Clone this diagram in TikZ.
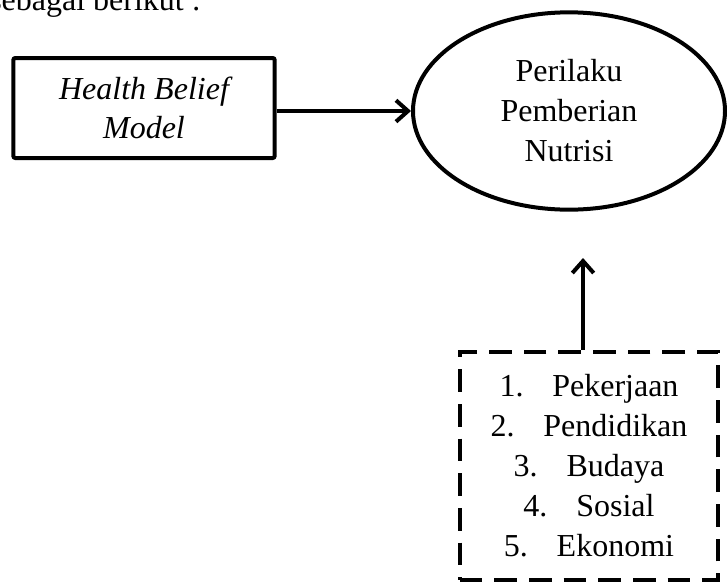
\documentclass[tikz,border=0pt]{standalone}
\usepackage{fontspec}
\setmainfont{Liberation Serif}
\usetikzlibrary{arrows.meta,positioning,shapes.geometric}

\begin{document}
\begin{tikzpicture}[
  x=0.75pt,y=-0.75pt,
  every node/.style={font=\fontsize{24}{30}\selectfont},
  hbm/.style={draw,line width=3pt,rounded corners=1.5pt,minimum width=196pt,minimum height=75pt,align=center,font=\fontsize{24}{29}\selectfont\itshape},
  outcome/.style={ellipse,draw,line width=3pt,minimum width=234pt,minimum height=148pt,align=center},
  factors/.style={draw,dash pattern=on 17pt off 9pt,line width=3pt,minimum width=194pt,minimum height=171pt,align=center},
  arrow/.style={-{Straight Barb[length=9pt,width=16pt,line width=3pt]},line width=3pt}
]
  \useasboundingbox (0,0) rectangle (727,582);
  \clip (0,0) rectangle (727,582);

  \node[anchor=base west,inner sep=0] (intro) at (-11,10) {sebagai berikut :};

  \node[hbm] (model) at (144,108) {Health Belief\\Model};
  \node[outcome] (perilaku) at (569,111) {Perilaku\\Pemberian\\Nutrisi};
  \node[factors] (faktor) at (589,466) {1.\hspace{0.9em}Pekerjaan\\2.\hspace{0.9em}Pendidikan\\3.\hspace{0.9em}Budaya\\4.\hspace{0.9em}Sosial\\5.\hspace{0.9em}Ekonomi};
  \coordinate (tip) at (583,258);

  \draw[arrow] (model.east |- perilaku.west) -- (perilaku.west);
  \draw[arrow] (faktor.north -| tip) -- (tip);
\end{tikzpicture}
\end{document}
